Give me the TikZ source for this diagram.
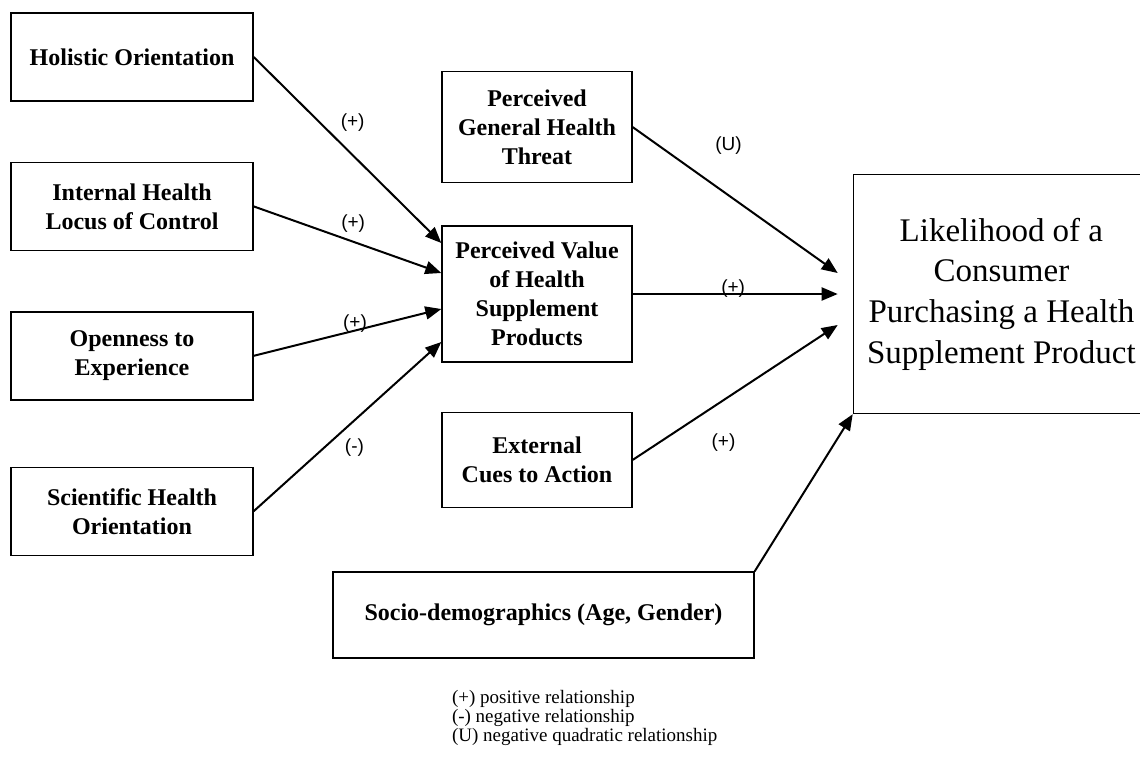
\documentclass[tikz,border=0pt]{standalone}
\usepackage{fontspec}
\setmainfont{Liberation Serif}
\newfontfamily\signfont{Liberation Sans}
\usetikzlibrary{arrows.meta,positioning,calc}

\begin{document}
\begin{tikzpicture}[x=0.5pt,y=-0.5pt,->,>={Triangle[length=8pt,width=6.5pt]},line width=1pt,
	main node/.style={rectangle,draw,line width=.7pt,align=center,inner sep=2pt,
		font=\bfseries\fontsize{12}{14.5}\selectfont,minimum width=121pt,minimum height=44pt},
	mid node/.style={main node,minimum width=95pt},
	sign/.style={font=\signfont\fontsize{9.5}{10}\selectfont,inner sep=0pt}]

	\useasboundingbox (0,0) rectangle (1140,761);

	% left column
	\node[main node] (holo) at (132,57) {Holistic Orientation};
	\node[main node] (ihlc) [below = 30pt of holo] {Internal Health\\Locus of Control};
	\node[main node] (open) [below = 30pt of ihlc] {Openness to\\Experience};
	\node[main node] (sci) [below = 33pt of open] {Scientific Health\\Orientation};

	% middle column
	\node[mid node,minimum height=68pt] (value) at (537,294) {Perceived Value\\of Health\\Supplement\\Products};
	\node[mid node,minimum height=55.5pt] (threat) [above = 21pt of value] {Perceived\\General Health\\Threat};
	\node[mid node,minimum height=47.5pt] (cues) [below = 24.5pt of value] {External\\Cues to Action};
	\node[main node,minimum width=210.5pt,minimum height=43pt] (socio) at (543.5,615) {Socio-demographics (Age, Gender)};

	% outcome
	\node[rectangle,draw,line width=.7pt,align=center,minimum width=148pt,minimum height=119.5pt,
		font=\fontsize{16.5}{20.3}\selectfont] (likely) [right = 110pt of value]
		{Likelihood of a\\Consumer\\Purchasing a Health\\Supplement Product};

	\node[anchor=west,align=left,inner sep=0pt,font=\fontsize{9.5}{9.7}\selectfont] (legend) at (451,718)
		{(+) positive relationship\\(-) negative relationship\\(U) negative quadratic relationship};

	\path
	(holo.east) edge node[sign,pos=.44,xshift=8.2pt,yshift=7.9pt] {(+)} ([yshift=25.5pt]value.west)
	(ihlc.east) edge node[sign,pos=.53,yshift=9pt] {(+)} ([yshift=10.5pt]value.west)
	(open.east) edge node[sign,pos=.54,yshift=3.5pt] {(+)} ([yshift=-7.5pt]value.west)
	(sci.east) edge node[sign,pos=.47,xshift=6.3pt,yshift=-7.8pt] {(-)} ([yshift=-24pt]value.west);

	\path
	(threat.east) edge node[sign,pos=.35,xshift=12pt,yshift=16.5pt] {(U)} ([shift={(-7.5pt,10.5pt)}]likely.west)
	(value.east) edge node[sign,pos=.49,yshift=2.5pt] {(+)} ([xshift=-7.5pt]likely.west)
	(cues.east) edge node[sign,pos=.35,xshift=9.5pt,yshift=-15pt] {(+)} ([shift={(-7.5pt,-15.5pt)}]likely.west)
	(socio.north east) edge (likely.south west);

\end{tikzpicture}
\end{document}
